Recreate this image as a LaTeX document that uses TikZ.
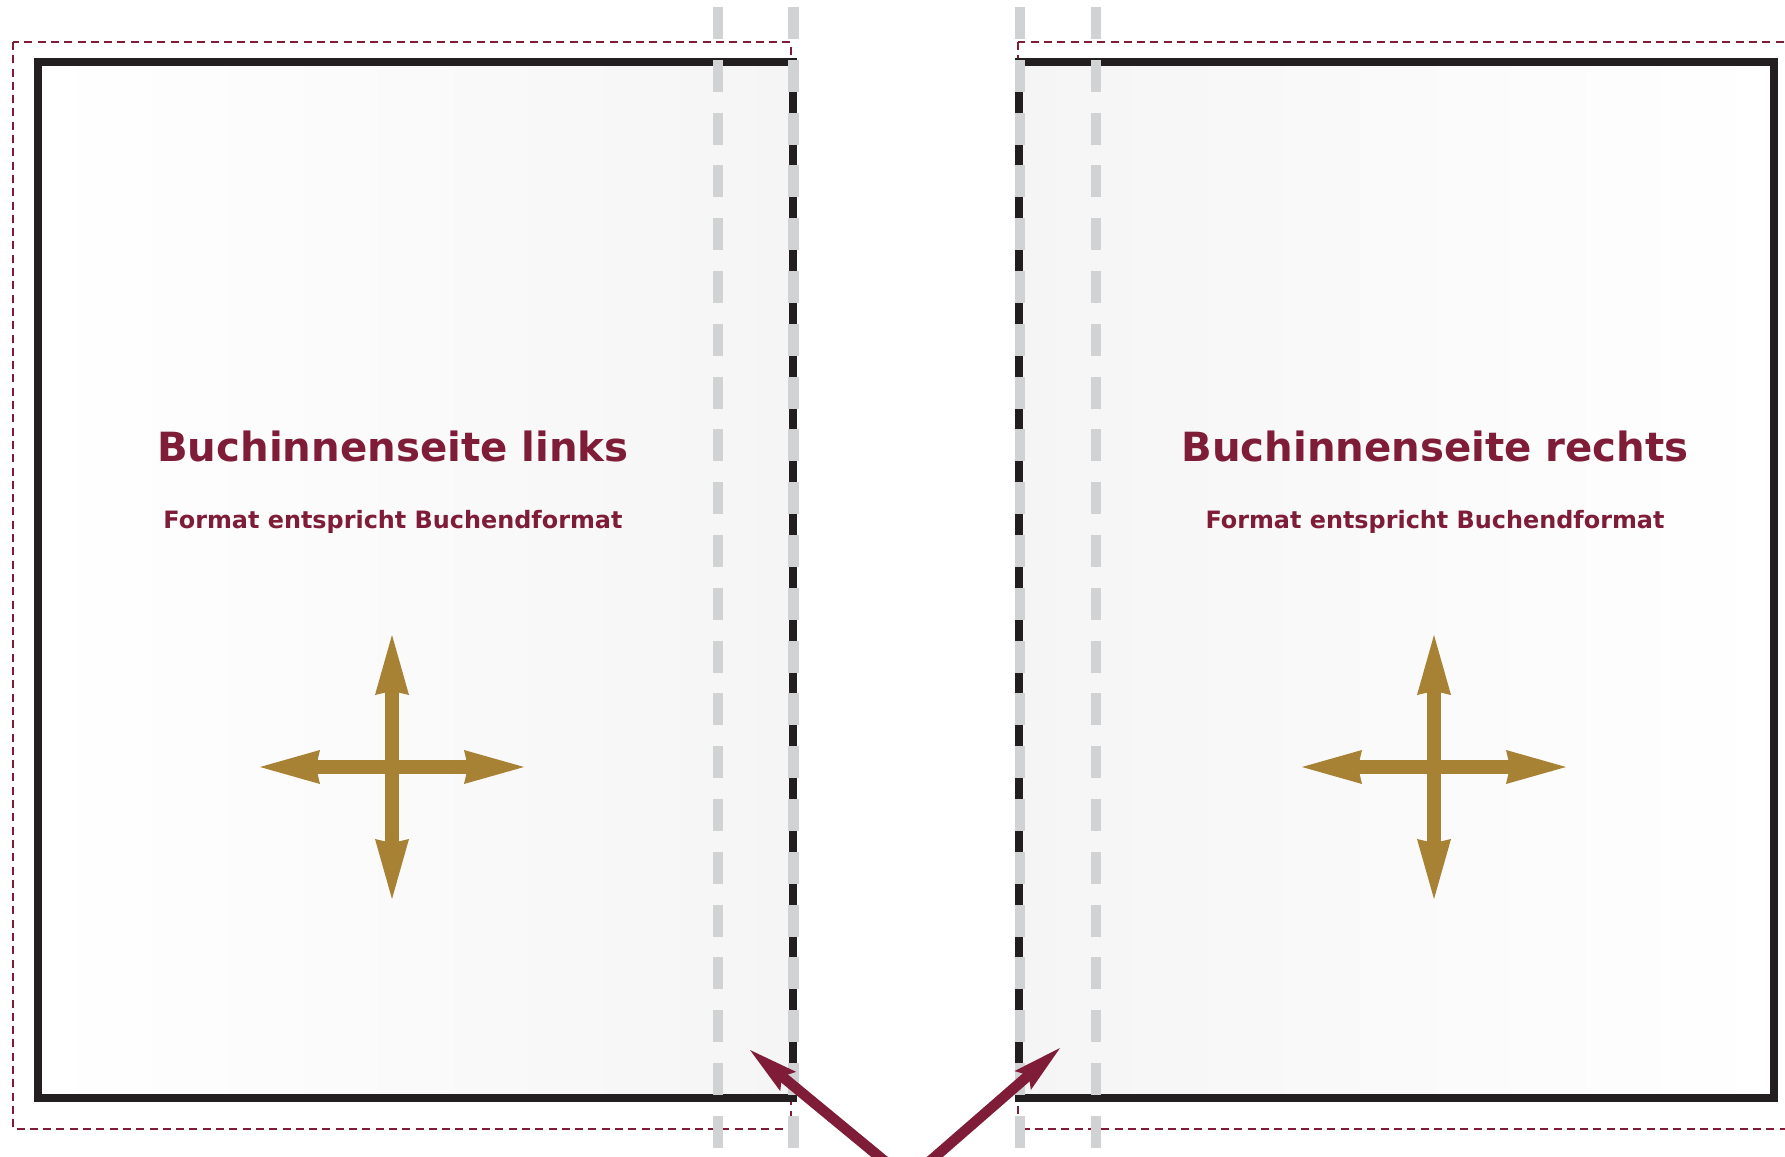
\documentclass[tikz,border=0pt]{standalone}
\usepackage{fontspec}
\setmainfont{DejaVu Sans}
\usepackage{tikz}
\usepackage{xcolor}
\usetikzlibrary{arrows.meta}

\definecolor{bordeaux}{HTML}{7F1D38}
\definecolor{gold}{HTML}{A88234}
\definecolor{trimblack}{HTML}{231F20}
\definecolor{guidegrey}{HTML}{D1D2D4}
\definecolor{pagegrey}{HTML}{F5F5F5}

\tikzset{
  trimline/.style={trimblack, line width=0.8mm},
  bleedline/.style={bordeaux, line width=0.27mm, dash pattern=on 0.8mm off 0.53mm},
  guideline/.style={guidegrey, line width=1.07mm, dash pattern=on 3.2mm off 2.08mm},
  goldarrow/.style={gold, line width=1.33mm,
    arrows={Stealth[length=6mm,width=3.4mm,inset=0.4mm,line width=0pt]-Stealth[length=6mm,width=3.4mm,inset=0.4mm,line width=0pt]}},
  pointer/.style={bordeaux, line width=1.05mm,
    arrows={-Stealth[length=4.95mm,width=2.5mm,inset=0.8mm,line width=0pt]}},
  pagetitle/.style={bordeaux, anchor=base, inner sep=0pt, font=\bfseries\fontsize{11.45}{14}\selectfont},
  pagesub/.style={bordeaux, anchor=base, inner sep=0pt, font=\bfseries\fontsize{6.8}{8}\selectfont},
}

\begin{document}
\begin{tikzpicture}[x=0.1mm, y=-0.1mm]
        \clip (0,0) rectangle (1785,1157);

        % Pages
        \shade[left color=white, right color=pagegrey] (38,62) rectangle (793,1098);
        \shade[left color=pagegrey, right color=white] (1019,62) rectangle (1774,1098);

        % Bleed
        \draw[bleedline] (13,42) rectangle (791,1129);
        \draw[bleedline] (1018,42) rectangle (1810,1129);

        % Trim
        \draw[trimline] (38,62) rectangle (793,1098);
        \draw[trimline] (1019,62) rectangle (1774,1098);

        % Guides
        \foreach \gx in {718,793.5,1020,1096}
          \draw[guideline] (\gx,7) -- (\gx,1160);

        % Texts
        \node[pagetitle] (titleL) at (393,462) {Buchinnenseite links};
        \node[pagesub] (subL) at (393,529) {Format entspricht Buchendformat};
        \node[pagetitle] (titleR) at (1435,462) {Buchinnenseite rechts};
        \node[pagesub] (subR) at (1435,529) {Format entspricht Buchendformat};

        % Format arrows
        \coordinate (crossL) at (392,767);
        \coordinate (crossR) at (1434,767);
        \draw[goldarrow] ([yshift=13.2mm]crossL) -- ([yshift=-13.2mm]crossL);
        \draw[goldarrow] ([xshift=-13.2mm]crossL) -- ([xshift=13.2mm]crossL);
        \draw[goldarrow] ([yshift=13.2mm]crossR) -- ([yshift=-13.2mm]crossR);
        \draw[goldarrow] ([xshift=-13.2mm]crossR) -- ([xshift=13.2mm]crossR);

        % Pointers
        \coordinate (cornerL) at (750,1050);
        \coordinate (startL) at (893,1168);
        \coordinate (cornerR) at (1060,1048);
        \coordinate (startR) at (921,1169);
        \draw[pointer] (startL) -- (cornerL);
        \draw[pointer] (startR) -- (cornerR);
\end{tikzpicture}
\end{document}
